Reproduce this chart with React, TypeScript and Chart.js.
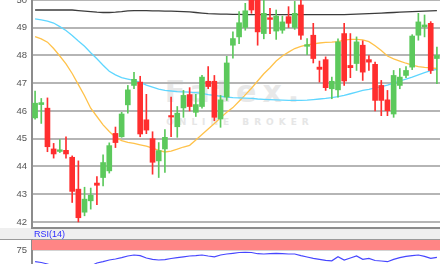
import React, { useEffect, useRef } from "react";
import { Chart, registerables } from "chart.js";
Chart.register(...registerables);

const opens = [45.75, 46.23, 46.1, 44.63, 44.54, 44.58, 44.33, 43.18, 42.35, 42.76, 43.4, 43.6, 43.84, 45.19, 45.07, 46.22, 46.92, 47.04, 45.68, 45.0, 44.2, 44.63, 45.83, 45.43, 46.11, 46.59, 45.95, 46.16, 47.07, 47.07, 45.71, 46.5, 48.37, 48.67, 49.01, 50.1, 50.05, 48.79, 49.36, 48.88, 48.91, 49.4, 49.01, 49.82, 48.33, 48.73, 47.58, 47.85, 46.8, 46.76, 48.79, 47.64, 47.71, 48.37, 47.85, 47.68, 46.92, 46.4, 45.89, 46.92, 47.28, 47.58, 48.73, 49.03, 49.16, 47.89];
const closes = [46.28, 46.3, 44.71, 44.45, 44.6, 44.45, 43.1, 42.15, 42.82, 42.96, 43.32, 44.14, 44.75, 44.86, 45.89, 46.76, 47.14, 45.17, 45.31, 44.15, 44.57, 45.05, 45.78, 45.92, 46.56, 46.16, 46.23, 47.22, 46.88, 45.77, 46.4, 47.73, 48.61, 49.18, 49.61, 49.64, 48.85, 49.52, 49.3, 49.42, 49.21, 49.16, 49.52, 48.73, 48.39, 47.89, 47.5, 46.84, 47.07, 48.49, 47.08, 47.56, 48.49, 47.4, 47.76, 46.38, 46.38, 46.01, 47.28, 47.22, 47.46, 48.7, 49.21, 49.1, 47.46, 48.0];
const highs = [46.72, 46.45, 46.47, 44.83, 44.97, 45.07, 44.38, 44.2, 43.25, 43.22, 43.63, 44.42, 44.85, 45.42, 45.95, 46.92, 47.39, 47.25, 46.6, 45.25, 44.86, 45.33, 46.5, 46.16, 46.74, 46.84, 46.6, 47.28, 47.6, 47.28, 46.56, 47.97, 48.85, 49.58, 49.88, 50.3, 50.2, 50.0, 49.7, 49.64, 49.42, 49.76, 49.95, 50.0, 48.61, 49.16, 47.8, 47.95, 47.22, 48.6, 49.16, 48.79, 48.67, 48.53, 48.0, 47.76, 47.1, 46.74, 47.46, 47.53, 47.6, 48.75, 49.52, 49.46, 49.22, 48.3];
const lows = [45.7, 45.55, 44.53, 44.3, 44.5, 44.3, 42.7, 42.0, 42.22, 42.46, 42.62, 43.3, 43.76, 44.68, 45.05, 45.92, 46.8, 45.07, 45.18, 43.72, 43.6, 43.78, 45.07, 45.05, 45.77, 46.0, 45.8, 46.1, 46.8, 45.65, 45.41, 46.38, 47.9, 48.43, 48.91, 49.52, 48.37, 48.6, 48.79, 48.58, 48.8, 49.01, 48.94, 48.58, 48.03, 47.73, 47.04, 46.74, 46.44, 46.5, 46.92, 47.2, 47.46, 47.1, 47.46, 46.0, 45.83, 45.83, 45.77, 46.8, 47.2, 47.49, 48.55, 48.67, 47.35, 46.98];

// moving averages
const maFast = [48.68, 48.6, 48.48, 48.25, 47.98, 47.7, 47.35, 46.95, 46.55, 46.1, 45.8, 45.5, 45.26, 45.05, 44.93, 44.87, 44.83, 44.78, 44.73, 44.66, 44.58, 44.52, 44.55, 44.62, 44.7, 44.76, 44.95, 45.15, 45.35, 45.55, 45.75, 45.95, 46.12, 46.35, 46.58, 46.82, 47.08, 47.34, 47.56, 47.8, 47.98, 48.12, 48.25, 48.33, 48.38, 48.42, 48.45, 48.47, 48.48, 48.5, 48.55, 48.58, 48.58, 48.56, 48.5, 48.35, 48.18, 47.98, 47.88, 47.8, 47.72, 47.65, 47.6, 47.57, 47.55, 47.53];
const maMid = [49.32, 49.28, 49.24, 49.17, 49.04, 48.9, 48.72, 48.52, 48.33, 48.1, 47.88, 47.65, 47.43, 47.3, 47.2, 47.15, 47.1, 47.03, 46.93, 46.86, 46.79, 46.74, 46.72, 46.7, 46.69, 46.68, 46.66, 46.63, 46.59, 46.56, 46.53, 46.5, 46.48, 46.47, 46.46, 46.45, 46.43, 46.42, 46.41, 46.4, 46.39, 46.38, 46.38, 46.38, 46.39, 46.41, 46.43, 46.45, 46.48, 46.52, 46.56, 46.62, 46.68, 46.74, 46.78, 46.83, 46.88, 46.93, 47.0, 47.08, 47.15, 47.22, 47.3, 47.38, 47.45, 47.5];
const maSlow = [49.64, 49.64, 49.64, 49.64, 49.64, 49.64, 49.64, 49.62, 49.6, 49.58, 49.56, 49.55, 49.55, 49.56, 49.58, 49.61, 49.62, 49.62, 49.62, 49.61, 49.61, 49.6, 49.6, 49.59, 49.58, 49.57, 49.55, 49.53, 49.51, 49.5, 49.49, 49.49, 49.48, 49.48, 49.47, 49.47, 49.47, 49.47, 49.47, 49.47, 49.47, 49.47, 49.47, 49.47, 49.47, 49.47, 49.47, 49.47, 49.47, 49.47, 49.47, 49.48, 49.49, 49.5, 49.51, 49.52, 49.53, 49.54, 49.55, 49.56, 49.57, 49.58, 49.59, 49.6, 49.61, 49.62];

const rsi = [45.8, 43.8, 40, 35, 32.5, 32, 30, 27, 30, 35, 42.5, 46, 50, 52.5, 56, 60, 62.5, 61, 55, 51.7, 50, 51, 53.7, 56, 58, 60, 61, 62.5, 60, 58, 62.5, 65, 66.7, 68.7, 69.3, 68.7, 65.7, 65, 65.7, 66.7, 65.7, 65, 65, 61, 57.5, 54, 51.7, 49, 48, 58, 50, 55, 60, 51.7, 54, 48.7, 47.5, 45.7, 51.7, 56, 59, 60.7, 62.5, 59, 54, 56.7];

const categories = opens.map((_, i) => String(i + 1));
const priceTicks = [42, 43, 44, 45, 46, 47, 48, 49, 50];
const priceMin = 41.78;
const priceMax = 50;
const rsiTicks = [25, 75];
const rsiBandLow = 75;
const rsiBandHigh = 100;
const rsiLabel = "RSI(14)";

const UP = "#5cc95c";
const DOWN = "#ff2e2e";
const FONT = "'Liberation Sans', Arial, sans-serif";

const candleColor = (i: number) => (closes[i] >= opens[i] ? UP : DOWN);

export default function App() {
  const mainRef = useRef<HTMLCanvasElement>(null);
  const rsiRef = useRef<HTMLCanvasElement>(null);

  useEffect(() => {
    const main = new Chart(mainRef.current!, {
      type: "bar",
      data: {
        labels: categories,
        datasets: [
          {
            type: "bar",
            label: "body",
            data: opens.map((o, i) => [o, closes[i]]) as any,
            backgroundColor: (ctx: any) => candleColor(ctx.dataIndex),
            barThickness: 5,
            grouped: false,
            minBarLength: 1.5,
            order: 0,
          } as any,
          {
            type: "bar",
            label: "wick",
            data: lows.map((l, i) => [l, highs[i]]) as any,
            backgroundColor: (ctx: any) => candleColor(ctx.dataIndex),
            barThickness: 1,
            grouped: false,
            order: 1,
          } as any,
          {
            type: "line",
            label: "MA slow",
            data: maSlow,
            borderColor: "#3c3c3c",
            borderWidth: 1.3,
            pointRadius: 0,
            order: 2,
          },
          {
            type: "line",
            label: "MA mid",
            data: maMid,
            borderColor: "#5fd6ff",
            borderWidth: 1.3,
            pointRadius: 0,
            order: 3,
          },
          {
            type: "line",
            label: "MA fast",
            data: maFast,
            borderColor: "#ffc24a",
            borderWidth: 1.3,
            pointRadius: 0,
            order: 4,
          },
        ],
      },
      options: {
        animation: false,
        responsive: false,
        events: [],
        layout: { padding: { top: 20, right: 0, bottom: 20, left: 0 } },
        plugins: { legend: { display: false }, tooltip: { enabled: false } },
        scales: {
          x: { display: false, offset: true },
          y: {
            min: priceMin,
            max: priceMax,
            afterFit: (s: any) => {
              s.width = 32;
            },
            afterBuildTicks: (s: any) => {
              s.ticks = priceTicks.map((v) => ({ value: v }));
            },
            ticks: { color: "#555", font: { size: 9.5, family: FONT }, padding: 5 },
            grid: { color: "#b5b5b5", lineWidth: 2, drawTicks: false },
            border: { color: "#8c8c8c", width: 2 },
          },
        },
      },
    });

    const bandPlugin = {
      id: "rsiBand",
      beforeDatasetsDraw(chart: any) {
        const { ctx, chartArea, scales } = chart;
        const y1 = scales.y.getPixelForValue(rsiBandHigh);
        const y2 = scales.y.getPixelForValue(rsiBandLow);
        ctx.save();
        ctx.fillStyle = "#ff8585";
        ctx.fillRect(chartArea.left, y1, chartArea.right - chartArea.left, y2 - y1);
        ctx.restore();
      },
    };

    const rsiChart = new Chart(rsiRef.current!, {
      type: "line",
      data: {
        labels: categories,
        datasets: [
          {
            label: "RSI",
            data: rsi,
            borderColor: "#4646ff",
            borderWidth: 1.2,
            pointRadius: 0,
          },
        ],
      },
      options: {
        animation: false,
        responsive: false,
        events: [],
        layout: { padding: { top: 20, right: 0, bottom: 20, left: 0 } },
        plugins: { legend: { display: false }, tooltip: { enabled: false } },
        scales: {
          x: { display: false, offset: true },
          y: {
            min: 0,
            max: 100,
            afterFit: (s: any) => {
              s.width = 32;
            },
            afterBuildTicks: (s: any) => {
              s.ticks = rsiTicks.map((v) => ({ value: v }));
            },
            ticks: { color: "#555", font: { size: 9.5, family: FONT }, padding: 5 },
            grid: { color: "#a8a8a8", lineWidth: 1.5, drawTicks: false },
            border: { color: "#8c8c8c", width: 2 },
          },
        },
      },
      plugins: [bandPlugin],
    });

    return () => {
      main.destroy();
      rsiChart.destroy();
    };
  }, []);

  return (
    <div
      style={{
        position: "fixed",
        left: 0,
        top: 0,
        width: 440,
        height: 264,
        overflow: "hidden",
        background: "#fff",
        fontFamily: FONT,
      }}
    >
      <div
        style={{
          position: "absolute",
          left: 140,
          top: 72,
          width: 190,
          textAlign: "center",
          color: "#e8e8e8",
          fontFamily: "'DejaVu Sans', sans-serif",
          fontWeight: "bold",
          fontSize: 30,
          letterSpacing: 6,
          lineHeight: "40px",
        }}
      >
        Fatex.
      </div>
      <div
        style={{
          position: "absolute",
          left: 130,
          top: 116,
          width: 220,
          whiteSpace: "nowrap",
          textAlign: "center",
          color: "#e6e6e6",
          fontFamily: "'DejaVu Sans', sans-serif",
          fontWeight: "bold",
          fontSize: 9,
          letterSpacing: 5,
          lineHeight: "12px",
        }}
      >
        ONLINE BROKER
      </div>
      <canvas
        ref={mainRef}
        width={440}
        height={268}
        style={{ position: "absolute", left: 0, top: -20, width: 440, height: 268 }}
      />
      <div
        style={{
          position: "absolute",
          left: 0,
          top: 228,
          width: 440,
          height: 12,
          background: "#efefef",
          borderBottom: "1px solid #9a9a9a",
          boxSizing: "border-box",
        }}
      />
      <div
        style={{
          position: "absolute",
          left: 31,
          top: 227,
          width: 409,
          height: 2,
          background: "#8c8c8c",
        }}
      />
      <div
        style={{
          position: "absolute",
          left: 34,
          top: 229,
          fontSize: 9,
          lineHeight: "10px",
          color: "#2e2eff",
          fontFamily: FONT,
        }}
      >
        {rsiLabel}
      </div>
      <canvas
        ref={rsiRef}
        width={440}
        height={80}
        style={{ position: "absolute", left: 0, top: 220, width: 440, height: 80 }}
      />
    </div>
  );
}
